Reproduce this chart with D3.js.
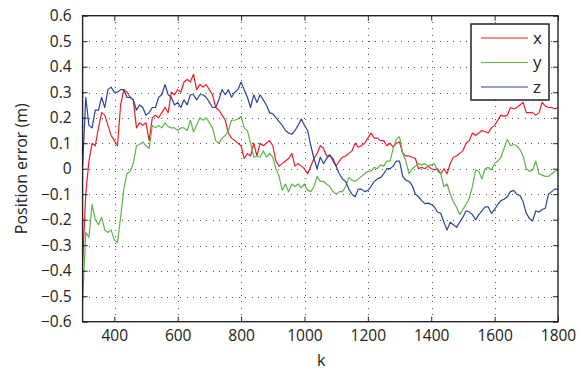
<!DOCTYPE html>
<html>
<head>
<meta charset="utf-8">
<script src="https://cdn.jsdelivr.net/npm/d3@7"></script>
<style>
  html, body { margin: 0; padding: 0; background: #fff; }
  svg { display: block; }
  text { font-family: "Open Sans", "Noto Sans", sans-serif; fill: #222; }
</style>
</head>
<body>
<svg id="chart" width="583" height="371"></svg>
<script>
// Sample index k (every 10 steps from 300 to 1800)
const kStart = 300, kStep = 10;

// Position error per axis (m)
const errX = [
  -0.37, -0.10, 0.03, 0.10, 0.09, 0.16, 0.22, 0.21, 0.17, 0.13,
  0.11, 0.09, 0.25, 0.31, 0.30, 0.28, 0.27, 0.16, 0.18, 0.17,
  0.18, 0.11, 0.20, 0.21, 0.20, 0.22, 0.24, 0.22, 0.30, 0.29,
  0.31, 0.30, 0.34, 0.35, 0.34, 0.37, 0.31, 0.33, 0.32, 0.33,
  0.31, 0.29, 0.24, 0.23, 0.21, 0.19, 0.14, 0.12, 0.11, 0.10,
  0.09, 0.04, 0.06, 0.05, 0.10, 0.05, 0.10, 0.09, 0.10, 0.11,
  0.09, 0.03, 0.01, 0.02, 0.03, 0.04, 0.06, 0.01, 0.02, 0.01,
  0.00, -0.02, 0.01, 0.04, 0.06, 0.09, 0.08, 0.05, 0.05, 0.04,
  0.01, 0.03, 0.045, 0.05, 0.06, 0.07, 0.10, 0.085, 0.09, 0.10,
  0.12, 0.14, 0.12, 0.12, 0.11, 0.11, 0.09, 0.10, 0.085, 0.10,
  0.105, 0.06, 0.05, 0.05, 0.045, 0.04, 0.00, 0.005, 0.00, 0.01,
  0.00, -0.005, 0.00, -0.02, 0.00, -0.02, 0.02, 0.045, 0.05, 0.06,
  0.07, 0.10, 0.11, 0.14, 0.13, 0.14, 0.15, 0.145, 0.14, 0.16,
  0.17, 0.19, 0.21, 0.205, 0.21, 0.24, 0.235, 0.24, 0.25, 0.26,
  0.22, 0.22, 0.22, 0.21, 0.22, 0.26, 0.245, 0.24, 0.24, 0.235,
  0.24
];
const errY = [
  -0.52, -0.25, -0.27, -0.14, -0.20, -0.22, -0.19, -0.24, -0.25, -0.24,
  -0.28, -0.29, -0.19, -0.08, -0.02, -0.01, 0.02, 0.09, 0.095, 0.105,
  0.09, 0.08, 0.17, 0.16, 0.17, 0.16, 0.18, 0.165, 0.16, 0.16,
  0.15, 0.16, 0.16, 0.15, 0.19, 0.145, 0.17, 0.20, 0.19, 0.20,
  0.18, 0.16, 0.11, 0.10, 0.12, 0.13, 0.15, 0.19, 0.19, 0.195,
  0.205, 0.16, 0.15, 0.10, 0.045, 0.05, 0.045, 0.07, 0.045, 0.06,
  0.045, 0.00, -0.03, -0.085, -0.06, -0.09, -0.06, -0.07, -0.06, -0.075,
  -0.06, -0.085, -0.09, -0.07, -0.03, -0.05, -0.05, -0.06, -0.07, -0.09,
  -0.10, -0.09, -0.09, -0.07, -0.035, -0.045, -0.05, -0.04, -0.03, -0.02,
  -0.01, -0.01, 0.005, 0.00, 0.015, 0.01, 0.03, 0.03, 0.08, 0.115,
  0.125, 0.06, 0.03, -0.02, 0.00, 0.01, 0.02, 0.015, 0.02, 0.01,
  0.015, 0.02, -0.01, -0.02, -0.07, -0.06, -0.10, -0.13, -0.15, -0.18,
  -0.16, -0.14, -0.115, -0.07, -0.005, -0.01, -0.04, 0.00, 0.005, -0.005,
  0.02, 0.03, 0.045, 0.08, 0.115, 0.09, 0.095, 0.09, 0.075, 0.05,
  0.00, -0.01, -0.005, 0.03, -0.02, -0.025, -0.03, -0.03, -0.02, -0.01,
  -0.005
];
const errZ = [
  0.01, 0.28, 0.17, 0.16, 0.23, 0.23, 0.28, 0.24, 0.31, 0.32,
  0.30, 0.30, 0.31, 0.31, 0.28, 0.28, 0.27, 0.23, 0.25, 0.24,
  0.21, 0.22, 0.24, 0.24, 0.28, 0.29, 0.33, 0.29, 0.28, 0.25,
  0.26, 0.24, 0.27, 0.25, 0.29, 0.29, 0.27, 0.29, 0.29, 0.28,
  0.26, 0.24, 0.24, 0.27, 0.31, 0.29, 0.31, 0.28, 0.30, 0.31,
  0.34, 0.31, 0.28, 0.24, 0.29, 0.26, 0.29, 0.27, 0.25, 0.22,
  0.215, 0.20, 0.185, 0.17, 0.15, 0.14, 0.135, 0.15, 0.17, 0.195,
  0.17, 0.15, 0.09, 0.04, 0.00, 0.045, 0.02, 0.04, 0.055, 0.03,
  0.01, -0.02, -0.04, -0.05, -0.08, -0.10, -0.11, -0.08, -0.08, -0.09,
  -0.085, -0.07, -0.05, -0.04, -0.035, -0.02, 0.00, 0.00, 0.01, 0.03,
  0.03, -0.03, -0.045, -0.05, -0.065, -0.10, -0.11, -0.125, -0.137, -0.135,
  -0.14, -0.15, -0.17, -0.175, -0.21, -0.24, -0.21, -0.22, -0.23, -0.21,
  -0.19, -0.165, -0.17, -0.18, -0.20, -0.18, -0.165, -0.15, -0.15, -0.175,
  -0.16, -0.14, -0.125, -0.12, -0.11, -0.09, -0.085, -0.10, -0.105, -0.13,
  -0.175, -0.195, -0.205, -0.165, -0.17, -0.16, -0.155, -0.10, -0.09, -0.08,
  -0.08
];

const seriesNames = ["x", "y", "z"];
const seriesColors = ["#ee1c25", "#5cb545", "#2b439b"];
const xTicks = [400, 600, 800, 1000, 1200, 1400, 1600, 1800];
const yTicks = [-0.6, -0.5, -0.4, -0.3, -0.2, -0.1, 0, 0.1, 0.2, 0.3, 0.4, 0.5, 0.6];

const W = 583, H = 371;
const margin = { top: 15.7, right: 25, bottom: 49.3, left: 82.6 };
const iw = W - margin.left - margin.right;
const ih = H - margin.top - margin.bottom;

const svg = d3.select("#chart");
const g = svg.append("g").attr("transform", `translate(${margin.left},${margin.top})`);

const x = d3.scaleLinear().domain([300, 1800]).range([0, iw]);
const y = d3.scaleLinear().domain([-0.6, 0.6]).range([ih, 0]);

// dotted grid
const grid = g.append("g").attr("stroke", "#555").attr("stroke-width", 1)
  .attr("stroke-dasharray", "1,5.5").attr("shape-rendering", "crispEdges");
grid.selectAll("line.v").data(xTicks.filter(t => t < 1800)).join("line")
  .attr("x1", d => Math.round(x(d)) + 0.5).attr("x2", d => Math.round(x(d)) + 0.5)
  .attr("y1", ih).attr("y2", 0);
grid.selectAll("line.h").data(yTicks.filter(t => Math.abs(t) < 0.59)).join("line")
  .attr("x1", 0).attr("x2", iw)
  .attr("y1", d => Math.round(y(d)) + 0.5).attr("y2", d => Math.round(y(d)) + 0.5);

// series
g.append("clipPath").attr("id", "plotClip").append("rect")
  .attr("width", iw).attr("height", ih);
const series = [errX, errY, errZ];
const line = d3.line()
  .x((d, i) => x(kStart + i * kStep))
  .y(d => y(d));
const lines = g.append("g").attr("clip-path", "url(#plotClip)");
series.forEach((s, i) => {
  lines.append("path").datum(s)
    .attr("fill", "none")
    .attr("stroke", seriesColors[i])
    .attr("stroke-width", 1.2)
    .attr("stroke-linejoin", "round")
    .attr("d", line);
});

// axes with inward ticks on all four sides
const fmt = d => d === 0 ? "0" : d3.format(".1f")(d).replace("-", "\u2212");
const axB = g.append("g").attr("transform", `translate(0,${ih})`)
  .call(d3.axisBottom(x).tickValues(xTicks).tickSize(-5).tickPadding(8).tickFormat(d3.format("d")));
const axL = g.append("g")
  .call(d3.axisLeft(y).tickValues(yTicks).tickSize(-5).tickPadding(11).tickFormat(fmt));
const axT = g.append("g")
  .call(d3.axisTop(x).tickValues(xTicks).tickSize(-5).tickFormat(""));
const axR = g.append("g").attr("transform", `translate(${iw},0)`)
  .call(d3.axisRight(y).tickValues(yTicks).tickSize(-5).tickFormat(""));
[axB, axL, axT, axR].forEach(a => {
  a.select(".domain").remove();
  a.selectAll(".tick line").attr("stroke", "#222").attr("stroke-width", 1);
  a.selectAll("text").attr("font-size", 15.5).attr("fill", "#222")
    .attr("font-family", "'Open Sans', 'Noto Sans', sans-serif");
});
g.append("rect").attr("width", iw).attr("height", ih)
  .attr("fill", "none").attr("stroke", "#222").attr("stroke-width", 1.4);

// axis titles
svg.append("text").attr("x", margin.left + iw / 2 + 1).attr("y", 366)
  .attr("text-anchor", "middle").attr("font-size", 16).text("k");
svg.append("text")
  .attr("transform", `translate(27,${margin.top + ih / 2}) rotate(-90)`)
  .attr("text-anchor", "middle").attr("font-size", 16).text("Position error (m)");

// legend
const lg = svg.append("g").attr("transform", "translate(471,24)");
lg.append("rect").attr("width", 78).attr("height", 76)
  .attr("fill", "#fff").attr("stroke", "#222").attr("stroke-width", 1.5);
seriesNames.forEach((name, i) => {
  const yy = 14 + i * 24.5;
  lg.append("line").attr("x1", 10).attr("x2", 57).attr("y1", yy).attr("y2", yy)
    .attr("stroke", seriesColors[i]).attr("stroke-width", 1.2);
  lg.append("text").attr("x", 62).attr("y", yy + 5.5)
    .attr("font-size", 17).text(name);
});
</script>
</body>
</html>
